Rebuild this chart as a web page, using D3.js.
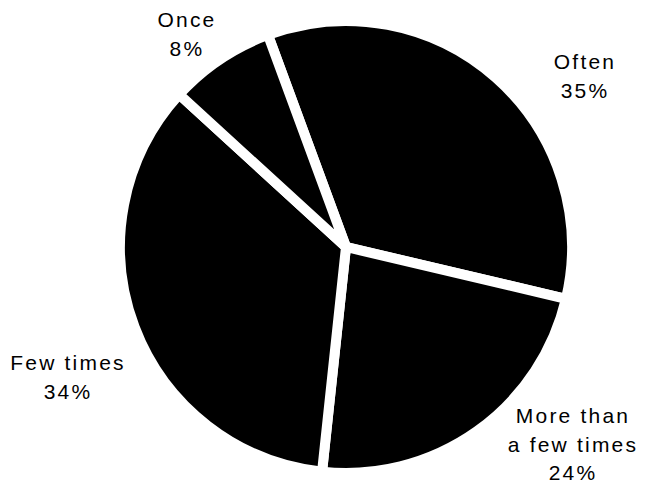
<!DOCTYPE html>
<html>
<head>
<meta charset="utf-8">
<script src="https://cdn.jsdelivr.net/npm/d3@7"></script>
<style>
  body { margin: 0; background: #fff; }
  text { font-family: "Liberation Sans", Arial, sans-serif; }
</style>
</head>
<body>
<div id="chart"></div>
<script>
var categories = ['Often', 'More than a few times', 'Few times', 'Once'];
// slice sizes as drawn (measured from the angles), labels keep the printed %
var values = [34.3, 23.0, 35.1, 7.6];
var labelLines = [['Often', '35%'], ['More than', 'a few times', '24%'], ['Few times', '34%'], ['Once', '8%']];

var width = 645, height = 486;
var cx = 346, cy = 247, radius = 221;
var gap = 10;
var startDeg = -20.2;
// where each label block sits (first baseline)
var labelPos = [[585, 69], [573, 423], [68, 370], [187, 27]];
var lineStep = 28.5;

var svg = d3.select('#chart').append('svg')
  .attr('width', width)
  .attr('height', height);

svg.append('rect').attr('width', width).attr('height', height).attr('fill', '#fff');

var start = startDeg * Math.PI / 180;
var pie = d3.pie().sort(null).value(function(d){ return d; })
  .startAngle(start).endAngle(start + 2 * Math.PI);

// white stroke makes the even-width gaps, so grow the radius by half of it
var arc = d3.arc()
  .innerRadius(0)
  .outerRadius(radius + gap / 2);

var g = svg.append('g').attr('transform', 'translate(' + cx + ',' + cy + ')');

g.selectAll('path')
  .data(pie(values))
  .enter()
  .append('path')
  .attr('d', arc)
  .attr('fill', '#000')
  .attr('stroke', '#fff')
  .attr('stroke-width', gap)
  .attr('stroke-linejoin', 'miter');

var labels = svg.selectAll('.lbl')
  .data(categories)
  .enter()
  .append('text')
  .attr('class', 'lbl')
  .attr('text-anchor', 'middle')
  .attr('font-size', 21)
  .attr('letter-spacing', 2.2)
  .attr('fill', '#000');

labels.each(function(d, i){
  var t = d3.select(this);
  labelLines[i].forEach(function(line, j){
    t.append('tspan')
      .attr('x', labelPos[i][0])
      .attr('y', labelPos[i][1] + j * lineStep)
      .text(line);
  });
});
</script>
</body>
</html>
